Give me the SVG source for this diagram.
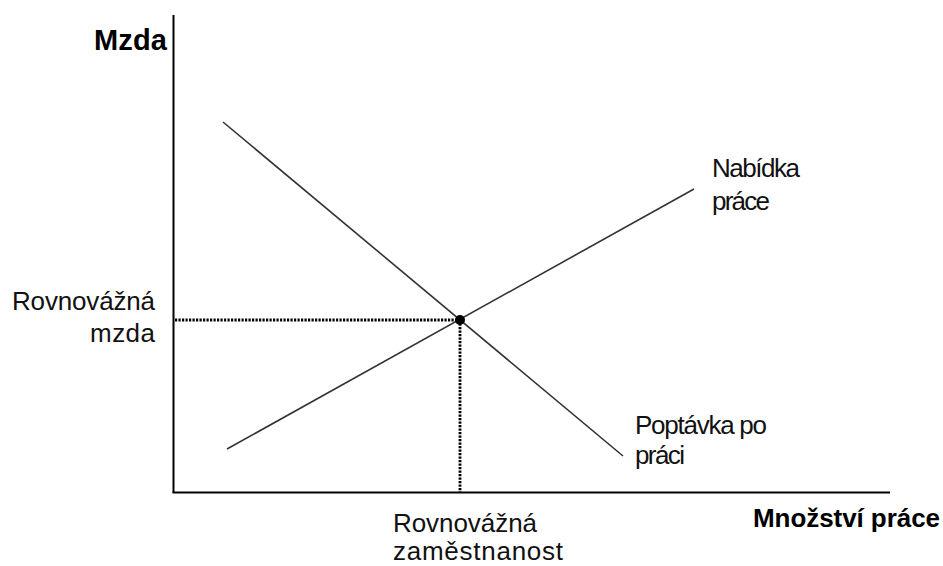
<svg xmlns="http://www.w3.org/2000/svg" width="943" height="566" viewBox="0 0 943 566">
<style>
.t{font-family:"Liberation Sans",Arial,sans-serif;font-size:26px;fill:#111}
.b{font-family:"Liberation Sans",Arial,sans-serif;font-size:26px;font-weight:bold;fill:#000}
.axis{stroke:#000;stroke-width:2;fill:none}
.curve{stroke:#333;stroke-width:1.6;fill:none}
.dot{stroke:#000;stroke-width:2.8;stroke-dasharray:2.2 1.3;fill:none}
</style>
<rect width="943" height="566" fill="#fff"/>
<g id="axes">
<line class="axis" x1="173.5" y1="15" x2="173.5" y2="493"/>
<line class="axis" x1="172.5" y1="492.5" x2="890" y2="492.5"/>
</g>
<g id="connectors">
<line class="curve" x1="223" y1="122" x2="623" y2="456"/>
<line class="curve" x1="227" y1="449" x2="694" y2="189"/>
<line class="dot" x1="175" y1="320" x2="460" y2="320"/>
<line class="dot" x1="460" y1="320" x2="460" y2="492"/>
</g>
<g id="equilibrium">
<circle cx="460" cy="320" r="5" fill="#000"/>
</g>
<g id="label-mzda">
<text class="b" x="94" y="50" style="font-size:29px" textLength="73" lengthAdjust="spacing">Mzda</text>
</g>
<g id="label-mnozstvi">
<text class="b" x="753" y="527" textLength="187" lengthAdjust="spacing">Množství práce</text>
</g>
<g id="label-rovnovazna-mzda">
<text class="t" x="12" y="310" textLength="143" lengthAdjust="spacing">Rovnovážná</text>
<text class="t" x="90" y="342" textLength="65" lengthAdjust="spacing">mzda</text>
</g>
<g id="label-nabidka">
<text class="t" x="712" y="177" textLength="88" lengthAdjust="spacing">Nabídka</text>
<text class="t" x="712" y="210" textLength="58" lengthAdjust="spacing">práce</text>
</g>
<g id="label-poptavka">
<text class="t" x="635" y="434" textLength="132" lengthAdjust="spacing">Poptávka po</text>
<text class="t" x="635" y="464" textLength="50" lengthAdjust="spacing">práci</text>
</g>
<g id="label-rovnovazna-zamestnanost">
<text class="t" x="393" y="532" textLength="144" lengthAdjust="spacing">Rovnovážná</text>
<text class="t" x="393" y="560" textLength="170" lengthAdjust="spacing">zaměstnanost</text>
</g>
</svg>
